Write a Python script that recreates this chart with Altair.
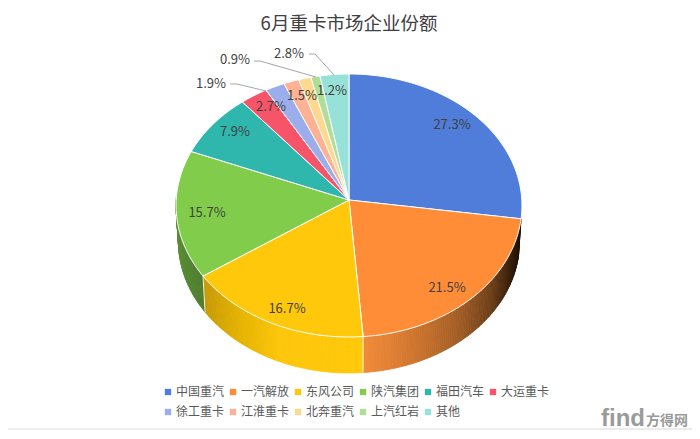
import math
import altair as alt
import pandas as pd

categories = ["中国重汽", "一汽解放", "东风公司", "陕汽集团", "福田汽车", "大运重卡",
              "徐工重卡", "江淮重卡", "北奔重汽", "上汽红岩", "其他"]
shares = [27.3, 21.5, 16.7, 15.7, 7.9, 2.7, 1.9, 1.5, 1.2, 0.9, 2.8]
colors = ["#4f7dd9", "#ff8c36", "#ffc80a", "#81cd4b", "#2fb7ae", "#f55469",
          "#9badea", "#ffb193", "#ffd88f", "#b0de96", "#97e2d8"]
labels = ["27.3%", "21.5%", "16.7%", "15.7%", "7.9%", "2.7%", "1.9%", "1.5%", "1.2%", "0.9%", "2.8%"]
label_x = [452, 447, 287, 207, 235, 271, 211, 302, 332, 235, 289]
label_y = [125, 288, 309, 213, 132, 107, 84, 96, 91, 60, 54]
leaders = {
    "1.9%": [(230, 84), (237, 84), (266, 91)],
    "0.9%": [(254, 61), (260, 61), (316, 77)],
    "2.8%": [(309, 54), (315, 54), (334, 75)],
}
side_stops = {
    "一汽解放": [(363, "#f08a38"), (393, "#e07f33"), (430, "#c06e2b"), (460, "#a05c25"), (490, "#6e3f18"), (513, "#2e1a08"), (522, "#1c0e04")],
    "东风公司": [(205, "#c79a05"), (240, "#e6b300"), (280, "#fdc60a"), (363, "#ffc90a")],
    "陕汽集团": [(176, "#5c8f38"), (205, "#4b7a2c")],
}

# pie geometry in page pixels
CX, CY, R, TILT = 349.0, 200.0, 172.8, -0.0418
A = 131.27
DEPTH, TAPER = 36.0, 0.986
W, H, TOP = 684, 423, 30


def rim(theta):
    u, v = math.sin(theta), -math.cos(theta)
    w = 1 + TILT * v
    return CX + R * u / w, CY + A * v / w


def low(theta):
    x, y = rim(theta)
    return CX + TAPER * (x - CX), y + DEPTH


def lerp_color(stops, x):
    if x <= stops[0][0]:
        return stops[0][1]
    for (x0, c0), (x1, c1) in zip(stops, stops[1:]):
        if x <= x1:
            t = (x - x0) / (x1 - x0)
            a = [int(c0[i:i + 2], 16) for i in (1, 3, 5)]
            b = [int(c1[i:i + 2], 16) for i in (1, 3, 5)]
            return "#%02x%02x%02x" % tuple(round(p + (q - p) * t) for p, q in zip(a, b))
    return stops[-1][1]


total = sum(shares)
edges = [0.0]
for s in shares:
    edges.append(edges[-1] + s / total * 2 * math.pi)

top_rows, side_rows, sep_rows = [], [], []
for i, cat in enumerate(categories):
    a0, a1 = edges[i], edges[i + 1]
    n = max(3, int((a1 - a0) / math.radians(1)))
    pts = [(CX, CY)] + [rim(a0 + (a1 - a0) * k / n) for k in range(n + 1)] + [(CX, CY)]
    for k, (x, y) in enumerate(pts):
        top_rows.append({"cat": cat, "x": x, "y": y, "o": k})
    if cat in side_stops:
        lo = max(a0, math.radians(90))
        hi = min(a1, math.radians(272))
        m = max(1, int((hi - lo) / math.radians(0.75)))
        for k in range(m):
            t0 = lo + (hi - lo) * k / m
            t1 = lo + (hi - lo) * (k + 1) / m
            quad = [rim(t0), rim(t1), low(t1), low(t0), rim(t0)]
            col = lerp_color(side_stops[cat], sum(p[0] for p in quad[:4]) / 4)
            for o, (x, y) in enumerate(quad):
                side_rows.append({"id": f"{cat}{k}", "hex": col, "x": x, "y": y, "o": o})
for i in (2, 3):
    for o, (x, y) in enumerate([rim(edges[i]), low(edges[i])]):
        sep_rows.append({"id": i, "x": x, "y": y, "o": o})

xs = alt.Scale(domain=[8, W + 8], range=[0, W], nice=False, zero=False)
ys = alt.Scale(domain=[8 + TOP, H + 8], range=[0, H - TOP], nice=False, zero=False)
X = alt.X("x:Q", scale=xs, axis=None)
Y = alt.Y("y:Q", scale=ys, axis=None)

side = alt.Chart(pd.DataFrame(side_rows)).mark_line(filled=True, strokeWidth=0.8, interpolate="linear").encode(
    x=X, y=Y, order="o:Q", detail="id:N",
    color=alt.Color("hex:N", scale=None, legend=None),
    stroke=alt.Stroke("hex:N", scale=None, legend=None),
)
sep = alt.Chart(pd.DataFrame(sep_rows)).mark_line(color="#fff3d0", strokeWidth=1).encode(
    x=X, y=Y, order="o:Q", detail="id:N")
top = alt.Chart(pd.DataFrame(top_rows)).mark_line(filled=True, stroke="white", strokeWidth=1).encode(
    x=X, y=Y, order="o:Q",
    color=alt.Color("cat:N", scale=alt.Scale(domain=categories, range=colors),
                    legend=alt.Legend(title=None, orient="none", legendX=154, legendY=348, columns=6,
                                      direction="horizontal",
                                      symbolType="square", symbolSize=40, symbolStrokeWidth=0,
                                      labelFont="Noto Sans CJK SC", labelFontSize=12, labelColor="#595959",
                                      columnPadding=2, rowPadding=8, labelOffset=2)),
)

leader_rows = [{"id": k, "x": p[0], "y": p[1], "o": n} for k, v in leaders.items() for n, p in enumerate(v)]
lead = alt.Chart(pd.DataFrame(leader_rows)).mark_line(color="#a6a6a6", strokeWidth=1).encode(
    x=X, y=Y, order="o:Q", detail="id:N")
text = alt.Chart(pd.DataFrame({"x": label_x, "y": label_y, "t": labels})).mark_text(
    font="Noto Sans CJK SC", fontSize=13, color="#404040").encode(x=X, y=Y, text="t:N")

frame = alt.Chart(pd.DataFrame({"y": [429]})).mark_rule(color="#d9d9d9", strokeWidth=1).encode(
    y=Y, x=alt.value(0), x2=alt.value(W))
wm1 = alt.Chart(pd.DataFrame({"x": [645], "y": [419], "t": ["find"]})).mark_text(
    font="Liberation Sans", fontSize=24, fontWeight="bold", color="#9a9a9a", align="right", baseline="middle"
).encode(x=X, y=Y, text="t:N")
wm2 = alt.Chart(pd.DataFrame({"x": [646], "y": [421], "t": ["方得网"]})).mark_text(
    font="Noto Sans CJK SC", fontSize=14, fontWeight="bold", color="#9a9a9a", align="left", baseline="middle"
).encode(x=X, y=Y, text="t:N")

chart = alt.layer(frame, side, sep, top, lead, text, wm1, wm2).resolve_scale(color="independent", stroke="independent").properties(
    width=W, height=H - TOP,
    padding={"left": 0, "right": 0, "top": TOP, "bottom": 0},
    autosize=alt.AutoSizeParams(type="none"),
    background="white",
    title=alt.TitleParams("6月重卡市场企业份额", font="Noto Sans CJK SC", fontSize=18.5, fontWeight="normal",
                          color="#404040", anchor="middle", offset=5, dx=-1),
).configure_view(stroke=None)

chart.save("out.html", embed_options={"renderer": "svg", "actions": False})
